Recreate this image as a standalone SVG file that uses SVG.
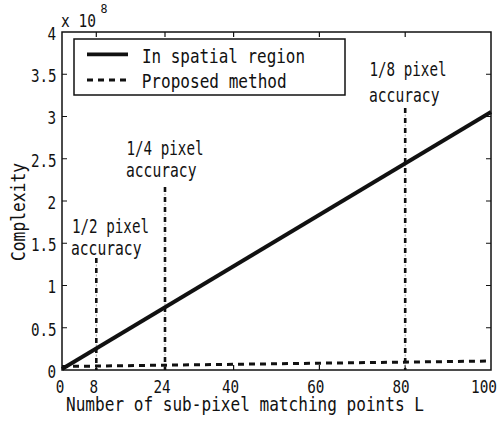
<svg xmlns="http://www.w3.org/2000/svg" width="499" height="424" viewBox="0 0 499 424">
  <style>
    .t { font-family: "DejaVu Sans Mono", "Liberation Mono", monospace; fill: #111; }
    .tick { font-size: 17.3px; }
    .lab { font-size: 19.3px; }
    .ann { font-size: 18.8px; }
    .frame { fill: none; stroke: #111; stroke-width: 1.5; }
    .tk { stroke: #111; stroke-width: 1.2; }
    .solid { stroke: #111; stroke-width: 3.8; fill: none; }
    .dash { stroke: #111; stroke-width: 3; fill: none; stroke-dasharray: 6 5; }
    .ddthick { stroke: #111; stroke-width: 2.6; stroke-dasharray: 5 5; }
    .ddthin { stroke: #999; stroke-width: 1; stroke-dasharray: 2 8; stroke-dashoffset: -6.5; }
  </style>
  <rect width="499" height="424" fill="#fff"/>

  <!-- plot frame and ticks -->
  <g id="axes">
    <rect class="frame" x="62" y="32" width="429" height="338"/>
    <g class="tk">
      <!-- x ticks: 0, 8, 24, 40, 60, 80, 100 -->
      <path d="M96.3 370v-5M165 370v-5M233.6 370v-5M319.4 370v-5M405.2 370v-5
               M96.3 32v5M165 32v5M233.6 32v5M319.4 32v5M405.2 32v5"/>
      <!-- y ticks every 0.5 -->
      <path d="M62 327.75h5M62 285.5h5M62 243.25h5M62 201h5M62 158.75h5M62 116.5h5M62 74.25h5
               M491 327.75h-5M491 285.5h-5M491 243.25h-5M491 201h-5M491 158.75h-5M491 116.5h-5M491 74.25h-5"/>
    </g>
    <g class="t tick">
      <text x="55.8" y="393" textLength="8.6" lengthAdjust="spacingAndGlyphs">0</text>
      <text x="89.6" y="393" textLength="8.6" lengthAdjust="spacingAndGlyphs">8</text>
      <text x="153.4" y="393" textLength="17.2" lengthAdjust="spacingAndGlyphs">24</text>
      <text x="221.9" y="393" textLength="17.2" lengthAdjust="spacingAndGlyphs">40</text>
      <text x="307.2" y="393" textLength="17.2" lengthAdjust="spacingAndGlyphs">60</text>
      <text x="392.4" y="393" textLength="17.2" lengthAdjust="spacingAndGlyphs">80</text>
      <text x="471" y="393" textLength="26" lengthAdjust="spacingAndGlyphs">100</text>

      <text x="47.6" y="377.5" textLength="8.6" lengthAdjust="spacingAndGlyphs">0</text>
      <text x="30.9" y="335.5" textLength="25.6" lengthAdjust="spacingAndGlyphs">0.5</text>
      <text x="47.6" y="293.3" textLength="8.6" lengthAdjust="spacingAndGlyphs">1</text>
      <text x="30.9" y="251" textLength="25.6" lengthAdjust="spacingAndGlyphs">1.5</text>
      <text x="47.6" y="208.8" textLength="8.6" lengthAdjust="spacingAndGlyphs">2</text>
      <text x="30.9" y="166.5" textLength="25.6" lengthAdjust="spacingAndGlyphs">2.5</text>
      <text x="47.6" y="124.3" textLength="8.6" lengthAdjust="spacingAndGlyphs">3</text>
      <text x="30.9" y="82" textLength="25.6" lengthAdjust="spacingAndGlyphs">3.5</text>
      <text x="47.6" y="39.5" textLength="8.6" lengthAdjust="spacingAndGlyphs">4</text>

      <text x="61" y="27" textLength="35" lengthAdjust="spacingAndGlyphs">x 10</text>
    </g>
    <text class="t" x="100.5" y="13.3" font-size="12.5" textLength="7" lengthAdjust="spacingAndGlyphs">8</text>
    <text class="t lab" x="66" y="410.5" textLength="358" lengthAdjust="spacingAndGlyphs">Number of sub-pixel matching points L</text>
    <text class="t lab" x="25" y="261" transform="rotate(-90 25 261)" textLength="98" lengthAdjust="spacingAndGlyphs">Complexity</text>
  </g>

  <!-- accuracy markers -->
  <g id="markers">
    <path class="ddthick" d="M96.3 258V370M165 187V370M405.2 108V370"/>
    <path class="ddthin" d="M96.3 258V370M165 187V370M405.2 108V370"/>
    <g class="t ann">
      <text x="72" y="232.7" textLength="77" lengthAdjust="spacingAndGlyphs">1/2 pixel</text>
      <text x="71" y="255" textLength="70.5" lengthAdjust="spacingAndGlyphs">accuracy</text>
      <text x="126.5" y="155" textLength="77" lengthAdjust="spacingAndGlyphs">1/4 pixel</text>
      <text x="126" y="177" textLength="70.5" lengthAdjust="spacingAndGlyphs">accuracy</text>
      <text x="369.5" y="75.7" textLength="77" lengthAdjust="spacingAndGlyphs">1/8 pixel</text>
      <text x="369" y="101.5" textLength="70.5" lengthAdjust="spacingAndGlyphs">accuracy</text>
    </g>
  </g>

  <!-- data series -->
  <g id="series">
    <path id="spatial" class="solid" d="M62 369L491 112"/>
    <path id="proposed" class="dash" d="M62 366.5L491 361"/>
  </g>

  <!-- legend -->
  <g id="legend">
    <rect x="74" y="39" width="271" height="56" fill="#fff" stroke="#111" stroke-width="1.5"/>
    <path class="solid" d="M87 54.3H128"/>
    <path class="dash" d="M87 80H128"/>
    <g class="t lab">
      <text x="142" y="63.3" textLength="163" lengthAdjust="spacingAndGlyphs">In spatial region</text>
      <text x="141.7" y="88.3" textLength="145" lengthAdjust="spacingAndGlyphs">Proposed method</text>
    </g>
  </g>
</svg>
